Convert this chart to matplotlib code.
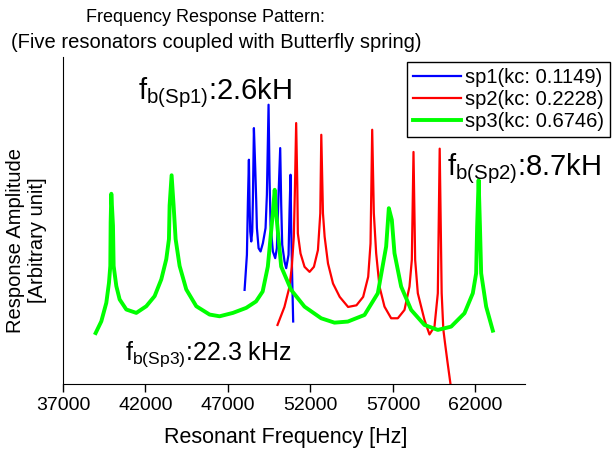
import matplotlib
matplotlib.use("Agg")
import matplotlib.pyplot as plt

plt.rcParams["font.family"] = ["Liberation Sans", "DejaVu Sans"]
plt.rcParams["mathtext.default"] = "regular"

# (frequency in Hz, amplitude in arbitrary units)
sp1_freq = [48005, 48066, 48146, 48207, 48267, 48308, 48348, 48409, 48469, 48510,
            48570, 48651, 48711, 48752, 48853, 48974, 49115, 49276, 49357, 49458,
            49518, 49579, 49720, 49861, 49962, 50063, 50164, 50225, 50285, 50426,
            50527, 50669, 50729, 50790, 50830, 50891, 50950]
sp1_amp = [1.140, 1.322, 1.565, 2.211, 2.716, 2.171, 1.847, 1.726, 1.847, 2.251,
           3.099, 2.615, 2.211, 1.888, 1.645, 1.605, 1.706, 1.888, 2.292, 3.382,
           2.493, 1.928, 1.605, 1.524, 1.645, 2.292, 2.857, 2.171, 1.686, 1.484,
           1.403, 1.565, 2.090, 2.534, 1.888, 1.282, 0.757]

sp2_freq = [50000, 50420, 50725, 50867, 50989, 51060, 51131, 51200, 51233, 51395,
            51639, 51943, 52207, 52451, 52593, 52654, 52755, 52857, 53060, 53364,
            53770, 54278, 54785, 55191, 55496, 55638, 55739, 55838, 55979, 56181,
            56484, 56888, 57292, 57696, 57999, 58141, 58242, 58343, 58504, 58908,
            59211, 59514, 59716, 59830, 59950, 60050, 60150, 60300, 60484]
sp2_amp = [0.715, 0.933, 1.176, 1.419, 1.783, 2.400, 3.160, 2.400, 1.824, 1.581,
           1.419, 1.358, 1.419, 1.622, 2.067, 3.018, 2.067, 1.783, 1.460, 1.217,
           1.055, 0.933, 0.953, 1.055, 1.298, 1.702, 3.079, 2.069, 1.584, 1.180,
           0.937, 0.796, 0.796, 0.897, 1.180, 1.503, 2.810, 1.503, 1.099, 0.776,
           0.600, 0.695, 1.099, 2.850, 1.099, 0.660, 0.500, 0.270, 0.0]

sp3_freq = [38979, 39322, 39625, 39787, 39867, 39888, 39928, 40029, 40069, 40231,
            40433, 40837, 41442, 42048, 42553, 42957, 43259, 43421, 43461, 43582,
            43703, 43825, 44067, 44471, 45077, 45884, 46490, 47298, 48105, 48700,
            49100, 49414, 49717, 49830, 49919, 50222, 50828, 51636, 52646, 53454,
            54262, 55272, 56080, 56585, 56747, 56929, 57090, 57494, 58100, 58908,
            59716, 60524, 61332, 61837, 62039, 62100, 62190, 62270, 62343, 62646,
            63050]
sp3_amp = [0.617, 0.759, 0.983, 1.227, 1.430, 1.959, 2.304, 1.918, 1.430, 1.186,
           1.024, 0.902, 0.861, 0.942, 1.064, 1.267, 1.511, 1.755, 2.162, 2.528,
           2.162, 1.755, 1.430, 1.145, 0.942, 0.841, 0.820, 0.861, 0.922, 1.000,
           1.120, 1.422, 2.069, 2.352, 2.069, 1.422, 1.139, 0.937, 0.796, 0.743,
           0.756, 0.836, 1.099, 1.665, 2.129, 1.988, 1.584, 1.180, 0.897, 0.715,
           0.655, 0.695, 0.857, 1.099, 1.341, 1.907, 2.470, 1.907, 1.341, 0.937,
           0.646]

labels = ["sp1(kc: 0.1149)", "sp2(kc: 0.2228)", "sp3(kc: 0.6746)"]
xticks = [37000, 42000, 47000, 52000, 57000, 62000]

fig = plt.figure(figsize=(6.16, 4.49), dpi=100)
ax = fig.add_axes([63 / 616, 1 - 384 / 449, 462 / 616, 327 / 449])

l1, = ax.plot(sp1_freq, sp1_amp, color="#0000ff", lw=1.6, label=labels[0])
l2, = ax.plot(sp2_freq, sp2_amp, color="#ff0000", lw=1.6, label=labels[1])
l3, = ax.plot(sp3_freq, sp3_amp, color="#00ff00", lw=2.8, label=labels[2])

ax.set_xlim(37000, 65000)
ax.set_ylim(0, 3.96)
ax.spines["top"].set_visible(False)
ax.spines["right"].set_visible(False)
ax.set_yticks([])
ax.set_xticks(xticks)
ax.set_xticklabels([str(t) for t in xticks], fontsize=14)
ax.tick_params(axis="x", direction="out", length=6, width=1)
ax.set_xlabel("Resonant Frequency [Hz]", fontsize=15.5)
ax.xaxis.set_label_coords(0.483, -0.13)
ax.set_ylabel("Response Amplitude\n[Arbitrary unit]", fontsize=14.5)
ax.yaxis.set_label_coords(-0.034, 0.44)

fig.text(205 / 616, 1 - 18 / 449, "Frequency Response Pattern:", ha="center", va="center", fontsize=13)
fig.text(216 / 616, 1 - 43 / 449, "(Five resonators coupled with Butterfly spring)", ha="center", va="center", fontsize=14.5)

fig.text(138 / 616, 1 - 99 / 449, r"f$_{b(Sp1)}$:2.6kH", fontsize=21, ha="left", va="baseline")
fig.text(447 / 616, 1 - 175 / 449, r"f$_{b(Sp2)}$:8.7kH", fontsize=21, ha="left", va="baseline")
fig.text(125 / 616, 1 - 360 / 449, r"f$_{b(Sp3)}$:22.3 kHz", fontsize=18, ha="left", va="baseline")

leg = fig.legend(handles=[l1, l2, l3], loc="upper left",
                 bbox_to_anchor=(407 / 616, 1 - 62 / 449), fontsize=14.5,
                 fancybox=False, edgecolor="black", framealpha=1,
                 handlelength=2.4, handletextpad=0.2, labelspacing=0.15,
                 borderpad=0.3, borderaxespad=0)
leg.get_frame().set_linewidth(1.0)

fig.savefig("out.png", dpi=100)
